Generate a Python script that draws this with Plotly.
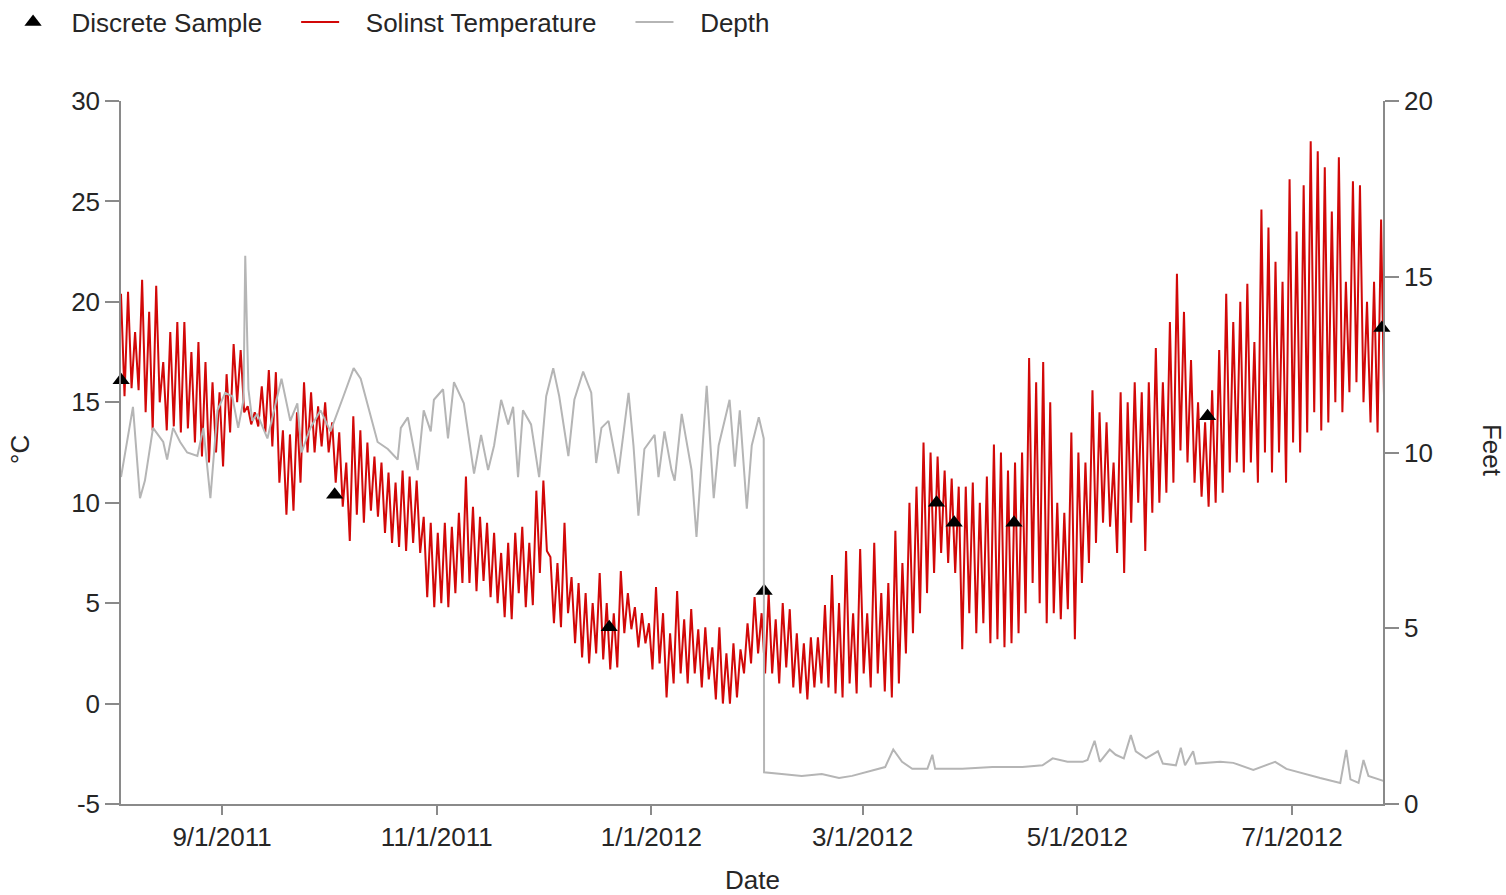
import plotly.graph_objects as go
import pandas as pd

START = pd.Timestamp("2011-08-03 07:00")
X_END = "2012-07-26 20:00"

# Solinst temperature (deg C): alternating daily high / following low, one pair per 2 days
temp_high = [20.4, 20.5, 18.5, 21.1, 19.5, 20.8, 17.0, 18.5, 19.0, 19.0,
             17.5, 18.0, 17.0, 16.0, 15.5, 16.4, 17.9, 17.6, 14.8, 14.5,
             15.8, 16.6, 16.5, 13.6, 13.4, 14.5, 16.0, 15.5, 14.8, 15.0,
             14.0, 13.5, 12.0, 14.3, 13.6, 13.0, 12.3, 12.0, 11.5, 11.0,
             11.6, 11.3, 11.1, 9.3, 9.0, 8.5, 9.0, 8.8, 9.5, 11.3,
             9.8, 9.3, 9.0, 8.5, 7.5, 8.0, 8.5, 8.8, 8.0, 10.6,
             11.1, 7.3, 7.0, 9.0, 6.3, 6.0, 5.5, 5.0, 6.5, 5.0,
             4.5, 6.6, 5.5, 4.8, 4.5, 4.0, 5.8, 4.5, 3.5, 5.6,
             4.2, 4.7, 3.7, 3.8, 2.8, 3.8, 2.5, 3.0, 2.7, 4.0,
             5.3, 4.5, 5.5, 4.2, 5.0, 4.7, 3.5, 3.0, 3.3, 3.3,
             4.9, 6.4, 5.0, 7.6, 4.5, 7.7, 4.5, 8.0, 5.5, 6.0,
             8.6, 7.0, 10.0, 10.8, 13.0, 12.5, 12.3, 11.6, 11.2, 10.8,
             10.8, 11.0, 10.0, 11.3, 12.9, 12.5, 11.6, 12.0, 12.5, 17.2,
             16.0, 17.0, 15.0, 10.0, 9.5, 13.5, 12.5, 12.0, 15.6, 14.5,
             14.0, 12.0, 15.5, 15.0, 16.0, 15.5, 16.0, 17.7, 16.0, 19.0,
             21.4, 19.5, 17.1, 15.0, 14.0, 15.6, 17.6, 20.4, 19.0, 20.0,
             20.9, 18.0, 24.6, 23.7, 22.0, 21.0, 26.1, 23.5, 25.8, 28.0,
             27.5, 26.7, 24.5, 27.2, 21.0, 26.0, 25.8, 20.0, 21.0, 24.1]
temp_low = [15.3, 15.7, 15.6, 14.5, 13.6, 15.0, 13.6, 13.8, 13.5, 13.7,
            13.0, 12.3, 12.0, 12.5, 11.8, 13.5, 15.0, 14.5, 13.9, 13.8,
            13.5, 12.8, 11.0, 9.4, 9.6, 11.0, 12.5, 12.5, 12.8, 12.5,
            11.0, 9.8, 8.1, 9.4, 9.0, 9.6, 9.3, 8.5, 8.0, 7.8,
            7.6, 8.0, 7.5, 5.3, 4.8, 5.0, 4.8, 5.5, 6.0, 6.0,
            5.6, 6.1, 5.3, 5.0, 4.3, 4.2, 5.5, 4.8, 4.9, 6.5,
            7.6, 4.0, 3.8, 4.5, 3.0, 2.3, 2.0, 2.5, 2.2, 1.7,
            1.8, 3.5, 3.7, 2.8, 3.0, 1.7, 2.0, 0.3, 1.0, 1.5,
            1.0, 1.5, 0.8, 1.2, 0.2, 0.0, 0.0, 0.3, 1.5, 2.0,
            2.5, 1.5, 1.5, 1.0, 1.8, 0.8, 0.5, 0.2, 0.8, 1.0,
            0.8, 0.5, 0.3, 1.0, 0.5, 1.5, 0.8, 1.5, 0.6, 0.3,
            1.0, 2.5, 3.5, 4.5, 5.5, 6.5, 7.5, 7.0, 6.5, 2.7,
            4.5, 3.5, 4.0, 3.0, 3.2, 2.8, 3.0, 3.5, 4.5, 6.0,
            5.0, 4.0, 4.5, 4.2, 4.7, 3.2, 6.0, 7.0, 8.0, 9.0,
            8.8, 7.5, 6.5, 9.0, 10.0, 7.6, 9.5, 10.0, 10.5, 11.0,
            12.6, 12.0, 11.0, 10.3, 9.8, 10.0, 10.5, 11.5, 12.0, 11.5,
            12.0, 11.0, 12.5, 11.5, 12.5, 11.0, 13.0, 12.5, 13.5, 14.5,
            13.6, 14.0, 15.0, 14.5, 15.5, 16.0, 15.0, 14.0, 13.5, 13.5]

# Discrete samples
sample_dates = ["2011-08-03 08:00", "2011-10-03", "2011-12-20", "2012-02-02",
                "2012-03-22", "2012-03-27", "2012-04-13", "2012-06-07",
                "2012-07-26 12:00"]
sample_temp = [16.1, 10.4, 3.8, 5.6, 10.0, 9.0, 9.0, 14.3, 18.7]

# Depth (feet), days since start
depth_day = [0.0, 3.4, 5.4, 6.8, 9.1, 12.0, 13.1, 14.8, 16.8, 18.8,
             21.7, 23.4, 25.4, 27.4, 29.6, 31.6, 33.3, 34.8, 35.3, 36.2,
             37.3, 38.7, 41.6, 44.2, 45.6, 48.1, 50.1, 51.3, 53.8, 56.7,
             59.5, 63.2, 66.1, 68.1, 70.9, 72.9, 75.8, 78.6, 79.5, 81.5,
             84.3, 86.0, 88.0, 88.9, 91.5, 92.9, 94.6, 97.4, 100.3, 102.3,
             104.3, 106.0, 108.0, 110.0, 111.4, 112.8, 114.2, 116.5, 118.8, 120.8,
             122.8, 124.5, 127.1, 128.8, 131.3, 133.6, 135.0, 136.5, 138.5, 141.3,
             142.7, 144.2, 145.6, 147.0, 148.7, 151.6, 152.7, 154.4, 156.4, 157.3,
             159.3, 161.3, 162.1, 163.5, 165.0, 166.4, 168.4, 169.8, 172.9, 174.4,
             175.8, 177.8, 179.2, 181.2, 182.6, 182.7,
             187.7, 193.4, 199.1, 204.0, 207.7, 213.4, 217.1, 219.4, 221.9, 224.8,
             229.1, 230.5, 231.3, 239.0, 247.6, 256.1, 261.8, 264.7, 268.9, 273.2,
             274.6, 276.6, 278.1, 280.9, 282.6, 284.9, 286.9, 288.3, 291.2, 294.6,
             296.0, 299.7, 301.1, 302.3, 304.6, 305.4, 312.3, 316.0, 321.7, 327.9,
             331.1, 340.7, 346.4, 348.1, 349.3, 351.6, 353.0, 354.4, 359.5]
depth_ft = [9.3, 11.3, 8.7, 9.2, 10.7, 10.3, 9.8, 10.7, 10.3, 10.0,
            9.9, 10.7, 8.7, 11.2, 11.7, 11.6, 10.7, 11.5, 15.6, 11.8,
            10.9, 11.1, 10.4, 11.5, 12.1, 10.9, 11.4, 10.0, 10.7, 11.2,
            10.6, 11.6, 12.4, 12.1, 11.0, 10.3, 10.1, 9.8, 10.7, 11.0,
            9.5, 11.2, 10.6, 11.5, 11.8, 10.4, 12.0, 11.4, 9.4, 10.5,
            9.5, 10.2, 11.5, 10.8, 11.3, 9.3, 11.2, 10.8, 9.3, 11.6,
            12.4, 11.6, 9.9, 11.5, 12.3, 11.7, 9.7, 10.7, 10.9, 9.4,
            10.5, 11.7, 10.2, 8.2, 10.1, 10.5, 9.3, 10.6, 9.5, 9.2,
            11.1, 10.0, 9.5, 7.6, 9.8, 11.9, 8.7, 10.2, 11.5, 9.6,
            11.2, 8.4, 10.2, 11.0, 10.4, 0.9,
            0.85, 0.8, 0.85, 0.74, 0.8, 0.95, 1.05, 1.55, 1.2, 1.0,
            1.0, 1.4, 1.0, 1.0, 1.05, 1.05, 1.1, 1.3, 1.2, 1.2,
            1.25, 1.8, 1.2, 1.55, 1.4, 1.3, 1.96, 1.5, 1.3, 1.5,
            1.15, 1.1, 1.6, 1.1, 1.5, 1.15, 1.2, 1.17, 0.97, 1.2,
            1.0, 0.74, 0.6, 1.54, 0.7, 0.6, 1.25, 0.8, 0.63]

x_tick_vals = ["2011-09-01", "2011-11-01", "2012-01-01", "2012-03-01",
               "2012-05-01", "2012-07-01"]
x_tick_text = ["9/1/2011", "11/1/2011", "1/1/2012", "3/1/2012", "5/1/2012", "7/1/2012"]
y_ticks = [-5, 0, 5, 10, 15, 20, 25, 30]
y_tick_text = ["-5", "0", "5", "10", "15", "20", "25", "30"]
y2_ticks = [0, 5, 10, 15, 20]

temp_x, temp_y = [], []
for k, (h, l) in enumerate(zip(temp_high, temp_low)):
    temp_x += [START + pd.Timedelta(days=2 * k), START + pd.Timedelta(days=2 * k + 1)]
    temp_y += [h, l]

depth_x = [START + pd.Timedelta(days=d) for d in depth_day]

FONT = "Liberation Sans, Arial, sans-serif"
TXT = "#262626"
AX = "#8a8a8a"
FS = 26
NB = "\u00a0"

fig = go.Figure()
fig.add_trace(go.Scatter(x=temp_x, y=temp_y, mode="lines", legendrank=2,
                         name=NB * 3 + "Solinst Temperature" + NB * 4,
                         line=dict(color="#d20808", width=2)))
fig.add_trace(go.Scatter(x=sample_dates, y=sample_temp, mode="markers", legendrank=1,
                         name=NB * 2 + "Discrete Sample" + NB * 4,
                         marker=dict(symbol="triangle-up", size=15, color="black"),
                         cliponaxis=False))
fig.add_trace(go.Scatter(x=depth_x, y=depth_ft, mode="lines", name=NB * 3 + "Depth",
                         legendrank=3, yaxis="y2", line=dict(color="#b5b5b5", width=2)))

axis_common = dict(showline=True, linecolor=AX, linewidth=1.5, ticks="outside",
                   tickcolor=AX, tickwidth=1.5, showgrid=False, zeroline=False,
                   tickfont=dict(family=FONT, size=FS, color=TXT))

fig.update_layout(
    width=1506, height=895,
    margin=dict(l=121, r=123, t=101, b=91, autoexpand=False),
    paper_bgcolor="white", plot_bgcolor="white",
    font=dict(family=FONT, size=FS, color=TXT),
    showlegend=True,
    legend=dict(orientation="h", x=-0.0887, xanchor="left", y=1.1124, yanchor="middle",
                font=dict(family=FONT, size=FS, color=TXT), bgcolor="rgba(0,0,0,0)",
                itemwidth=38, traceorder="normal"),
    xaxis=dict(type="date", range=[START, X_END], tickvals=x_tick_vals, ticktext=x_tick_text,
               ticklen=9, **axis_common),
    yaxis=dict(range=[-5, 30], tickvals=y_ticks, ticktext=y_tick_text, ticklen=14,
               **axis_common),
    yaxis2=dict(range=[0, 20], tickvals=y2_ticks, overlaying="y", side="right",
                ticklen=14, **axis_common),
    annotations=[
        dict(text="°C", xref="paper", yref="paper", x=-0.080, y=0.5036, textangle=-90,
             showarrow=False, xanchor="center", yanchor="middle",
             font=dict(family=FONT, size=FS, color=TXT)),
        dict(text="Feet", xref="paper", yref="paper", x=1.0864, y=0.5036, textangle=90,
             showarrow=False, xanchor="center", yanchor="middle",
             font=dict(family=FONT, size=FS, color=TXT)),
        dict(text="Date", xref="paper", yref="paper", x=0.5, y=-0.108,
             showarrow=False, xanchor="center", yanchor="middle",
             font=dict(family=FONT, size=FS, color=TXT)),
    ],
)

fig.write_html("out.html", config={"displayModeBar": False},
               post_script="document.body.style.margin='0';")
